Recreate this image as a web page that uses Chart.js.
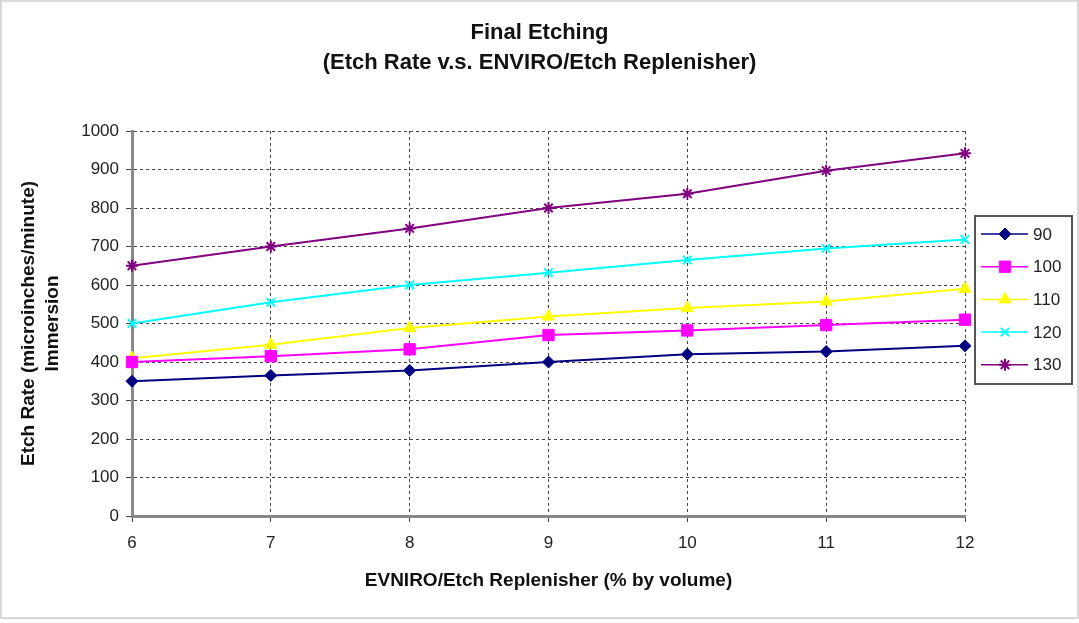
<!DOCTYPE html>
<html>
<head>
<meta charset="utf-8">
<script src="https://cdn.jsdelivr.net/npm/chart.js@4/dist/chart.umd.min.js"></script>
<style>
  html, body { margin: 0; padding: 0; background: #fff; }
  #wrap { width: 1079px; height: 623px; position: relative; }
</style>
</head>
<body>
<div id="wrap"><canvas id="etch" width="1079" height="623"></canvas></div>
<script>
// Final Etching — etch rate vs. replenisher concentration

const xLabels = ['6', '7', '8', '9', '10', '11', '12'];
const seriesNames = ['90', '100', '110', '120', '130'];
const rate90  = [350, 365, 378, 400, 420, 427, 442];
const rate100 = [400, 415, 433, 470, 482, 496, 510];
const rate110 = [410, 445, 488, 518, 540, 557, 590];
const rate120 = [500, 555, 600, 632, 665, 695, 718];
const rate130 = [650, 700, 747, 800, 837, 897, 942];
const titleLines = ['Final Etching', '(Etch Rate v.s. ENVIRO/Etch Replenisher)'];

const COLORS = ['#000080', '#ff00ff', '#ffff00', '#00ffff', '#800080'];
const MARKERS = [
  { style: 'rectRot', radius: 6, width: 1 },
  { style: 'rect', radius: 8, width: 1 },
  { style: 'triangle', radius: 7, width: 1 },
  { style: 'crossRot', radius: 6, width: 2 },
  { style: 'star', radius: 6, width: 2 }
];
const FONT = "'Liberation Sans', Arial, sans-serif";

function makeSet(i, values) {
  const m = MARKERS[i];
  return {
    label: seriesNames[i],
    data: values,
    borderColor: COLORS[i],
    backgroundColor: COLORS[i],
    borderWidth: 2,
    pointStyle: m.style,
    pointRadius: m.radius,
    pointBorderWidth: m.width,
    pointBackgroundColor: COLORS[i],
    pointBorderColor: COLORS[i],
    tension: 0
  };
}

// boxed legend on the right, line + marker per series
const boxLegend = {
  id: 'boxLegend',
  afterDraw(chart) {
    const ctx = chart.ctx;
    const area = chart.chartArea;
    const left = area.right + 10, top = 216, w = 97, h = 168;
    ctx.save();
    ctx.strokeStyle = '#555';
    ctx.lineWidth = 2;
    ctx.strokeRect(left, top, w, h);
    chart.data.datasets.forEach((ds, i) => {
      const y = 234 + i * 32.7;
      ctx.strokeStyle = ds.borderColor;
      ctx.lineWidth = 1.5;
      ctx.beginPath();
      ctx.moveTo(left + 6, y);
      ctx.lineTo(left + 53, y);
      ctx.stroke();
      ctx.fillStyle = ds.pointBackgroundColor;
      ctx.strokeStyle = ds.pointBorderColor;
      ctx.lineWidth = ds.pointBorderWidth;
      Chart.helpers.drawPoint(ctx, {
        pointStyle: ds.pointStyle,
        radius: ds.pointRadius,
        borderWidth: ds.pointBorderWidth,
        rotation: 0
      }, left + 30, y);
      ctx.fillStyle = '#222';
      ctx.font = '17px ' + FONT;
      ctx.textBaseline = 'middle';
      ctx.textAlign = 'left';
      ctx.fillText(ds.label, left + 58, y + 1);
    });
    ctx.restore();
  }
};

// page frame + title centred on the whole canvas
const frame = {
  id: 'frame',
  beforeDraw(chart) {
    const ctx = chart.ctx;
    ctx.save();
    ctx.fillStyle = '#fff';
    ctx.fillRect(0, 0, chart.width, chart.height);
    ctx.strokeStyle = '#d8d8d8';
    ctx.lineWidth = 2;
    ctx.strokeRect(1, 1, chart.width - 2, chart.height - 6);
    ctx.fillStyle = '#111';
    ctx.font = 'bold 22px ' + FONT;
    ctx.textAlign = 'center';
    ctx.textBaseline = 'middle';
    titleLines.forEach((t, i) => ctx.fillText(t, chart.width / 2, 33 + i * 30));
    ctx.restore();
  }
};

new Chart(document.getElementById('etch'), {
  type: 'line',
  data: {
    labels: xLabels,
    datasets: [
      makeSet(0, rate90),
      makeSet(1, rate100),
      makeSet(2, rate110),
      makeSet(3, rate120),
      makeSet(4, rate130)
    ]
  },
  options: {
    responsive: false,
    animation: false,
    devicePixelRatio: 1,
    layout: { padding: { left: 0, right: 114, top: 131, bottom: 30 } },
    plugins: {
      legend: { display: false },
      tooltip: { enabled: false },
      title: { display: false }
    },
    scales: {
      x: {
        type: 'category',
        offset: false,
        afterFit: s => { s.height = 77; },
        border: { display: true, color: '#888', width: 3, dash: [3, 3] },
        grid: { color: '#444', lineWidth: 1, tickLength: 6, tickColor: '#444', tickWidth: 1 },
        ticks: { color: '#222', font: { family: FONT, size: 17 }, padding: 11, maxRotation: 0 },
        title: {
          display: true,
          text: 'EVNIRO/Etch Replenisher (% by volume)',
          color: '#111',
          font: { family: FONT, size: 19, weight: 'bold', lineHeight: 1.2 },
          padding: { top: 0, bottom: 1 }
        }
      },
      y: {
        min: 0,
        max: 1000,
        afterFit: s => { s.width = 132; },
        border: { display: true, color: '#888', width: 3, dash: [3, 3] },
        grid: { color: '#444', lineWidth: 1, tickLength: 6, tickColor: '#444', tickWidth: 1 },
        ticks: {
          stepSize: 100,
          color: '#222',
          font: { family: FONT, size: 17 },
          padding: 7,
          callback: v => String(v)
        },
        title: {
          display: true,
          text: ['Etch Rate (microinches/minute)', 'Immersion'],
          color: '#111',
          font: { family: FONT, size: 19, weight: 'bold', lineHeight: 1.3 },
          padding: { top: 16, bottom: 0 }
        }
      }
    }
  },
  plugins: [frame, boxLegend]
});
</script>
</body>
</html>
